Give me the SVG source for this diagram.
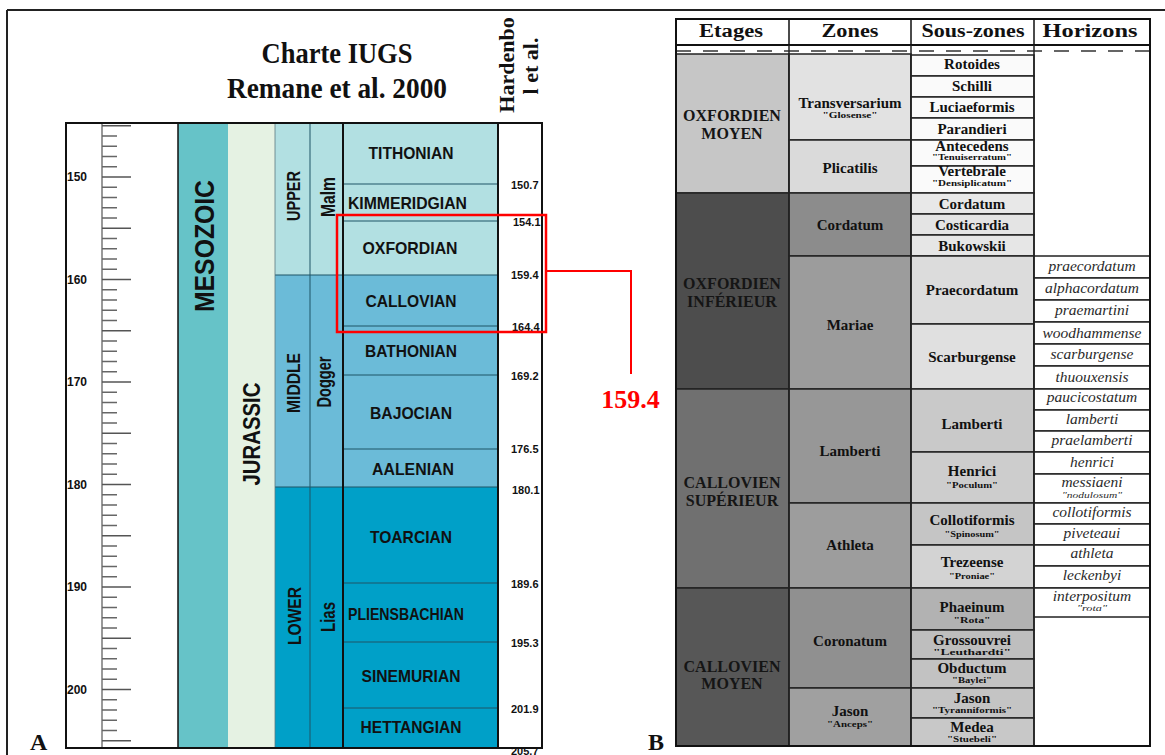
<svg xmlns="http://www.w3.org/2000/svg" width="1165" height="755" viewBox="0 0 1165 755">
<style>
.ar{font-family:"Liberation Sans",Arial,sans-serif;font-weight:bold;fill:#111}
.tm{font-family:"Liberation Serif","Times New Roman",serif;font-weight:bold;fill:#111}
.it{font-family:"Liberation Serif","Times New Roman",serif;font-style:italic;fill:#2a2a2a}
.st{font-size:17px;text-anchor:middle}
.rot{font-size:19px;text-anchor:middle}
.rot2{font-size:21px;text-anchor:middle}
.num{font-size:11px}
.sc{font-size:12px}
.up{fill:#b2e0e2}
.md{fill:#6bbbd8}
.lw{fill:#00a0c8}
.sl{stroke:#1f5566;stroke-width:1;fill:none}
.cell{stroke:#222;stroke-width:1.5}
.hz{fill:#fff;stroke:#222;stroke-width:1.5}
.et{font-size:16px;text-anchor:middle;fill:#151515}
.zt{font-size:15px;text-anchor:middle}
.sub{font-size:9px;text-anchor:middle}
.ht{font-size:15.5px;text-anchor:middle}
.hs{font-size:7.5px;text-anchor:middle}
</style>

<g id="frame">
<line x1="7" y1="10" x2="1165" y2="10" stroke="#222" stroke-width="2"/>
<line x1="7" y1="10" x2="7" y2="755" stroke="#222" stroke-width="2"/>
</g>

<g id="title">
<text class="tm" x="337" y="63" font-size="29" text-anchor="middle" textLength="151" lengthAdjust="spacingAndGlyphs">Charte IUGS</text>
<text class="tm" x="337" y="98" font-size="29" text-anchor="middle" textLength="220" lengthAdjust="spacingAndGlyphs">Remane et al. 2000</text>
</g>

<g id="hardenbol-label">
<text class="tm" font-size="22" text-anchor="middle" transform="translate(514,65) rotate(-90)">Hardenbo</text>
<text class="tm" font-size="22" text-anchor="middle" transform="translate(538,66) rotate(-90)">l et al.</text>
</g>

<g id="scale-column">
<rect x="66" y="123" width="112" height="625" fill="#fff"/>
<line x1="102" y1="123" x2="102" y2="748" stroke="#777" stroke-width="1.5"/>
<path fill="none" stroke="#666" stroke-width="1.3" d="M102 136h15M102 146.25h15M102 156.5h15M102 166.75h15M102 187.25h15M102 197.5h15M102 207.75h15M102 218h15M102 238.5h15M102 248.75h15M102 259h15M102 269.25h15M102 289.75h15M102 300h15M102 310.25h15M102 320.5h15M102 341h15M102 351.25h15M102 361.5h15M102 371.75h15M102 392.25h15M102 402.5h15M102 412.75h15M102 423h15M102 443.5h15M102 453.75h15M102 464h15M102 474.25h15M102 494.75h15M102 505h15M102 515.25h15M102 525.5h15M102 546h15M102 556.25h15M102 566.5h15M102 576.75h15M102 597.25h15M102 607.5h15M102 617.75h15M102 628h15M102 648.5h15M102 658.75h15M102 669h15M102 679.25h15M102 699.75h15M102 710h15M102 720.25h15M102 730.5h15"/>
<path fill="none" stroke="#555" stroke-width="1.3" d="M102 125.75h29M102 177h29M102 228.25h29M102 279.5h29M102 330.75h29M102 382h29M102 433.25h29M102 484.5h29M102 535.75h29M102 587h29M102 638.25h29M102 689.5h29M102 740.75h29"/>
<text class="ar sc" x="67" y="181">150</text>
<text class="ar sc" x="67" y="284">160</text>
<text class="ar sc" x="67" y="386">170</text>
<text class="ar sc" x="67" y="489">180</text>
<text class="ar sc" x="67" y="591">190</text>
<text class="ar sc" x="67" y="694">200</text>
</g>

<g id="era-mesozoic">
<rect x="178" y="123" width="50" height="625" fill="#66c3c8"/>
<text class="ar" font-size="28" text-anchor="middle" textLength="132" lengthAdjust="spacingAndGlyphs" transform="translate(214,246) rotate(-90)">MESOZOIC</text>
</g>

<g id="period-jurassic">
<rect x="228" y="123" width="47" height="625" fill="#e5f2e3"/>
<text class="ar" font-size="23" text-anchor="middle" textLength="103" lengthAdjust="spacingAndGlyphs" transform="translate(260,434) rotate(-90)">JURASSIC</text>
</g>

<g id="series-upper">
<rect class="up" x="275" y="123" width="35" height="152"/>
<text class="ar rot" textLength="50" lengthAdjust="spacingAndGlyphs" transform="translate(300,196) rotate(-90)">UPPER</text>
</g>
<g id="series-middle">
<rect class="md" x="275" y="275" width="35" height="212"/>
<text class="ar rot" textLength="60" lengthAdjust="spacingAndGlyphs" transform="translate(300,383) rotate(-90)">MIDDLE</text>
</g>
<g id="series-lower">
<rect class="lw" x="275" y="487" width="35" height="261"/>
<text class="ar rot" textLength="58" lengthAdjust="spacingAndGlyphs" transform="translate(301,616) rotate(-90)">LOWER</text>
</g>
<g id="sub-malm">
<rect class="up" x="310" y="123" width="33" height="152"/>
<text class="ar rot2" textLength="40" lengthAdjust="spacingAndGlyphs" transform="translate(335,197) rotate(-90)">Malm</text>
</g>
<g id="sub-dogger">
<rect class="md" x="310" y="275" width="33" height="212"/>
<text class="ar rot2" textLength="51" lengthAdjust="spacingAndGlyphs" transform="translate(331,382) rotate(-90)">Dogger</text>
</g>
<g id="sub-lias">
<rect class="lw" x="310" y="487" width="33" height="261"/>
<text class="ar rot2" textLength="30" lengthAdjust="spacingAndGlyphs" transform="translate(335,617) rotate(-90)">Lias</text>
</g>

<g id="stage-tithonian"><rect class="up" x="343" y="123" width="155" height="61"/><text class="ar st" x="411" y="159" textLength="85" lengthAdjust="spacingAndGlyphs">TITHONIAN</text></g>
<g id="stage-kimmeridgian"><rect class="up" x="343" y="184" width="155" height="37"/><text class="ar st" x="407.5" y="209" textLength="119" lengthAdjust="spacingAndGlyphs">KIMMERIDGIAN</text></g>
<g id="stage-oxfordian"><rect class="up" x="343" y="221" width="155" height="54"/><text class="ar st" x="410" y="254" textLength="95" lengthAdjust="spacingAndGlyphs">OXFORDIAN</text></g>
<g id="stage-callovian"><rect class="md" x="343" y="275" width="155" height="51"/><text class="ar st" x="411" y="307" textLength="91" lengthAdjust="spacingAndGlyphs">CALLOVIAN</text></g>
<g id="stage-bathonian"><rect class="md" x="343" y="326" width="155" height="49"/><text class="ar st" x="411" y="357" textLength="92" lengthAdjust="spacingAndGlyphs">BATHONIAN</text></g>
<g id="stage-bajocian"><rect class="md" x="343" y="375" width="155" height="74"/><text class="ar st" x="411" y="419" textLength="82" lengthAdjust="spacingAndGlyphs">BAJOCIAN</text></g>
<g id="stage-aalenian"><rect class="md" x="343" y="449" width="155" height="38"/><text class="ar st" x="413" y="475" textLength="82" lengthAdjust="spacingAndGlyphs">AALENIAN</text></g>
<g id="stage-toarcian"><rect class="lw" x="343" y="487" width="155" height="96"/><text class="ar st" x="411" y="543" textLength="82" lengthAdjust="spacingAndGlyphs">TOARCIAN</text></g>
<g id="stage-pliensbachian"><rect class="lw" x="343" y="583" width="155" height="59"/><text class="ar st" x="406" y="620" textLength="116" lengthAdjust="spacingAndGlyphs">PLIENSBACHIAN</text></g>
<g id="stage-sinemurian"><rect class="lw" x="343" y="642" width="155" height="66"/><text class="ar st" x="411" y="682" textLength="99" lengthAdjust="spacingAndGlyphs">SINEMURIAN</text></g>
<g id="stage-hettangian"><rect class="lw" x="343" y="708" width="155" height="40"/><text class="ar st" x="411" y="733" textLength="101" lengthAdjust="spacingAndGlyphs">HETTANGIAN</text></g>

<g id="chart-lines">
<path class="sl" d="M343 184H498M343 221H498M343 275H498M343 326H498M343 375H498M343 449H498M343 487H498M343 583H498M343 642H498M343 708H498M275 275H343M275 487H343M310 123V748"/>
<line x1="275" y1="123" x2="275" y2="748" stroke="#5a7a80" stroke-width="0.8"/>
<line x1="178" y1="123" x2="178" y2="748" stroke="#111" stroke-width="1.5"/>
<line x1="343" y1="123" x2="343" y2="748" stroke="#111" stroke-width="2"/>
<line x1="498" y1="123" x2="498" y2="748" stroke="#111" stroke-width="2"/>
<rect x="66" y="123" width="476" height="625" fill="none" stroke="#111" stroke-width="2"/>
</g>

<g id="hardenbol-ages">
<text class="ar num" x="511" y="189">150.7</text>
<text class="ar num" x="513" y="226">154.1</text>
<text class="ar num" x="511" y="279">159.4</text>
<text class="ar num" x="512" y="331">164.4</text>
<text class="ar num" x="511" y="380">169.2</text>
<text class="ar num" x="511" y="453">176.5</text>
<text class="ar num" x="512" y="494">180.1</text>
<text class="ar num" x="511" y="588">189.6</text>
<text class="ar num" x="511" y="647">195.3</text>
<text class="ar num" x="511" y="713">201.9</text>
<text class="ar num" x="511" y="755">205.7</text>
</g>

<g id="highlight-box">
<rect x="337" y="215" width="209" height="117" fill="none" stroke="#ff0000" stroke-width="2.5"/>
</g>

<g id="connectors">
<polyline points="546,271 631,271 631,374" fill="none" stroke="#ff0000" stroke-width="2"/>
</g>

<g id="label-159">
<text class="tm" x="630.5" y="408" font-size="26" text-anchor="middle" style="fill:#ff0000">159.4</text>
</g>

<g id="panel-labels">
<text class="tm" x="30" y="750" font-size="24">A</text>
<text class="tm" x="648" y="750" font-size="24">B</text>
</g>

<g id="table-header">
<rect x="676" y="19" width="474" height="26" fill="#fff" stroke="#111" stroke-width="2"/>
<path d="M789 19V45M911 19V45M1034 19V45" stroke="#111" stroke-width="1.5"/>
<text class="tm" x="731" y="37" font-size="18" text-anchor="middle" textLength="64" lengthAdjust="spacingAndGlyphs">Etages</text>
<text class="tm" x="850" y="37" font-size="18" text-anchor="middle" textLength="57" lengthAdjust="spacingAndGlyphs">Zones</text>
<text class="tm" x="973" y="37" font-size="18" text-anchor="middle" textLength="103" lengthAdjust="spacingAndGlyphs">Sous-zones</text>
<text class="tm" x="1090" y="37" font-size="18" text-anchor="middle" textLength="95" lengthAdjust="spacingAndGlyphs">Horizons</text>
</g>

<g id="etage-oxfordien-moyen"><rect class="cell" x="676" y="54" width="113" height="139" fill="#c6c6c6"/><text class="tm et" x="732" y="121">OXFORDIEN</text><text class="tm et" x="732" y="139">MOYEN</text></g>
<g id="etage-oxfordien-inferieur"><rect class="cell" x="676" y="193" width="113" height="196" fill="#4d4d4d"/><text class="tm et" x="732" y="289">OXFORDIEN</text><text class="tm et" x="732" y="307">INFÉRIEUR</text></g>
<g id="etage-callovien-superieur"><rect class="cell" x="676" y="389" width="113" height="199" fill="#707070"/><text class="tm et" x="732" y="488">CALLOVIEN</text><text class="tm et" x="732" y="506">SUPÉRIEUR</text></g>
<g id="etage-callovien-moyen"><rect class="cell" x="676" y="588" width="113" height="158" fill="#575757"/><text class="tm et" x="732" y="672">CALLOVIEN</text><text class="tm et" x="732" y="689">MOYEN</text></g>

<g id="zone-transversarium"><rect class="cell" x="789" y="54" width="122" height="86" fill="#e2e2e2"/><text class="tm zt" x="850" y="108">Transversarium</text><text class="tm sub" x="850" y="118" textLength="55" lengthAdjust="spacingAndGlyphs">"Glosense"</text></g>
<g id="zone-plicatilis"><rect class="cell" x="789" y="140" width="122" height="53" fill="#dadada"/><text class="tm zt" x="850" y="173">Plicatilis</text></g>
<g id="zone-cordatum"><rect class="cell" x="789" y="193" width="122" height="63" fill="#8c8c8c"/><text class="tm zt" x="850" y="230">Cordatum</text></g>
<g id="zone-mariae"><rect class="cell" x="789" y="256" width="122" height="133" fill="#9c9c9c"/><text class="tm zt" x="850" y="330">Mariae</text></g>
<g id="zone-lamberti"><rect class="cell" x="789" y="389" width="122" height="114" fill="#979797"/><text class="tm zt" x="850" y="456">Lamberti</text></g>
<g id="zone-athleta"><rect class="cell" x="789" y="503" width="122" height="85" fill="#9d9d9d"/><text class="tm zt" x="850" y="550">Athleta</text></g>
<g id="zone-coronatum"><rect class="cell" x="789" y="588" width="122" height="100" fill="#909090"/><text class="tm zt" x="850" y="646">Coronatum</text></g>
<g id="zone-jason"><rect class="cell" x="789" y="688" width="122" height="58" fill="#a0a0a0"/><text class="tm zt" x="850" y="716">Jason</text><text class="tm sub" x="850" y="727" textLength="46" lengthAdjust="spacingAndGlyphs">"Anceps"</text></g>

<g id="sz-rotoides"><rect class="cell" x="911" y="55" width="123" height="21" fill="#fafafa"/><text class="tm zt" x="972" y="69">Rotoides</text></g>
<g id="sz-schilli"><rect class="cell" x="911" y="76" width="123" height="21" fill="#fafafa"/><text class="tm zt" x="972" y="91">Schilli</text></g>
<g id="sz-luciaeformis"><rect class="cell" x="911" y="97" width="123" height="21" fill="#fafafa"/><text class="tm zt" x="972" y="112">Luciaeformis</text></g>
<g id="sz-parandieri"><rect class="cell" x="911" y="118" width="123" height="22" fill="#fafafa"/><text class="tm zt" x="972" y="134">Parandieri</text></g>
<g id="sz-antecedens"><rect class="cell" x="911" y="140" width="123" height="26" fill="#fafafa"/><text class="tm zt" x="972" y="151">Antecedens</text><text class="tm sub" x="972" y="160" textLength="80" lengthAdjust="spacingAndGlyphs">"Tenuiserratum"</text></g>
<g id="sz-vertebrale"><rect class="cell" x="911" y="166" width="123" height="27" fill="#fafafa"/><text class="tm zt" x="972" y="176">Vertebrale</text><text class="tm sub" x="972" y="186" textLength="80" lengthAdjust="spacingAndGlyphs">"Densiplicatum"</text></g>
<g id="sz-cordatum"><rect class="cell" x="911" y="193" width="123" height="21" fill="#e8e8e8"/><text class="tm zt" x="972" y="209">Cordatum</text></g>
<g id="sz-costicardia"><rect class="cell" x="911" y="214" width="123" height="21" fill="#e4e4e4"/><text class="tm zt" x="972" y="230">Costicardia</text></g>
<g id="sz-bukowskii"><rect class="cell" x="911" y="235" width="123" height="21" fill="#e6e6e6"/><text class="tm zt" x="972" y="251">Bukowskii</text></g>
<g id="sz-praecordatum"><rect class="cell" x="911" y="256" width="123" height="68" fill="#dcdcdc"/><text class="tm zt" x="972" y="295">Praecordatum</text></g>
<g id="sz-scarburgense"><rect class="cell" x="911" y="324" width="123" height="65" fill="#e0e0e0"/><text class="tm zt" x="972" y="362">Scarburgense</text></g>
<g id="sz-lamberti"><rect class="cell" x="911" y="389" width="123" height="63" fill="#c9c9c9"/><text class="tm zt" x="972" y="429">Lamberti</text></g>
<g id="sz-henrici"><rect class="cell" x="911" y="452" width="123" height="51" fill="#cdcdcd"/><text class="tm zt" x="972" y="476">Henrici</text><text class="tm sub" x="972" y="488" textLength="52" lengthAdjust="spacingAndGlyphs">"Poculum"</text></g>
<g id="sz-collotiformis"><rect class="cell" x="911" y="503" width="123" height="42" fill="#c5c5c5"/><text class="tm zt" x="972" y="525">Collotiformis</text><text class="tm sub" x="972" y="537" textLength="55" lengthAdjust="spacingAndGlyphs">"Spinosum"</text></g>
<g id="sz-trezeense"><rect class="cell" x="911" y="545" width="123" height="43" fill="#d3d3d3"/><text class="tm zt" x="972" y="567">Trezeense</text><text class="tm sub" x="972" y="579" textLength="46" lengthAdjust="spacingAndGlyphs">"Proniae"</text></g>
<g id="sz-phaeinum"><rect class="cell" x="911" y="588" width="123" height="42" fill="#b2b2b2"/><text class="tm zt" x="972" y="612">Phaeinum</text><text class="tm sub" x="972" y="623" textLength="37" lengthAdjust="spacingAndGlyphs">"Rota"</text></g>
<g id="sz-grossouvrei"><rect class="cell" x="911" y="630" width="123" height="29" fill="#bebebe"/><text class="tm zt" x="972" y="645">Grossouvrei</text><text class="tm sub" x="972" y="655" textLength="78" lengthAdjust="spacingAndGlyphs">"Leuthardti"</text></g>
<g id="sz-obductum"><rect class="cell" x="911" y="659" width="123" height="29" fill="#c2c2c2"/><text class="tm zt" x="972" y="673">Obductum</text><text class="tm sub" x="972" y="683" textLength="40" lengthAdjust="spacingAndGlyphs">"Baylei"</text></g>
<g id="sz-jason"><rect class="cell" x="911" y="688" width="123" height="30" fill="#c4c4c4"/><text class="tm zt" x="972" y="703">Jason</text><text class="tm sub" x="972" y="713" textLength="80" lengthAdjust="spacingAndGlyphs">"Tyranniformis"</text></g>
<g id="sz-medea"><rect class="cell" x="911" y="718" width="123" height="28" fill="#c8c8c8"/><text class="tm zt" x="972" y="732">Medea</text><text class="tm sub" x="972" y="742" textLength="50" lengthAdjust="spacingAndGlyphs">"Stuebeli"</text></g>

<g id="hz-praecordatum"><rect class="hz" x="1034" y="256" width="116" height="22"/><text class="it ht" x="1092" y="271">praecordatum</text></g>
<g id="hz-alphacordatum"><rect class="hz" x="1034" y="278" width="116" height="22"/><text class="it ht" x="1092" y="293">alphacordatum</text></g>
<g id="hz-praemartini"><rect class="hz" x="1034" y="300" width="116" height="22"/><text class="it ht" x="1092" y="315">praemartini</text></g>
<g id="hz-woodhammense"><rect class="hz" x="1034" y="322" width="116" height="22"/><text class="it ht" x="1092" y="338">woodhammense</text></g>
<g id="hz-scarburgense"><rect class="hz" x="1034" y="344" width="116" height="22"/><text class="it ht" x="1092" y="359">scarburgense</text></g>
<g id="hz-thuouxensis"><rect class="hz" x="1034" y="366" width="116" height="23"/><text class="it ht" x="1092" y="382">thuouxensis</text></g>
<g id="hz-paucicostatum"><rect class="hz" x="1034" y="389" width="116" height="21"/><text class="it ht" x="1092" y="402">paucicostatum</text></g>
<g id="hz-lamberti"><rect class="hz" x="1034" y="410" width="116" height="21"/><text class="it ht" x="1092" y="424">lamberti</text></g>
<g id="hz-praelamberti"><rect class="hz" x="1034" y="431" width="116" height="21"/><text class="it ht" x="1092" y="445">praelamberti</text></g>
<g id="hz-henrici"><rect class="hz" x="1034" y="452" width="116" height="22"/><text class="it ht" x="1092" y="467">henrici</text></g>
<g id="hz-messiaeni"><rect class="hz" x="1034" y="474" width="116" height="29"/><text class="it ht" x="1092" y="487">messiaeni</text><text class="it hs" x="1092" y="498" textLength="60" lengthAdjust="spacingAndGlyphs">"nodulosum"</text></g>
<g id="hz-collotiformis"><rect class="hz" x="1034" y="503" width="116" height="21"/><text class="it ht" x="1092" y="517">collotiformis</text></g>
<g id="hz-piveteaui"><rect class="hz" x="1034" y="524" width="116" height="21"/><text class="it ht" x="1092" y="538">piveteaui</text></g>
<g id="hz-athleta"><rect class="hz" x="1034" y="545" width="116" height="21"/><text class="it ht" x="1092" y="558">athleta</text></g>
<g id="hz-leckenbyi"><rect class="hz" x="1034" y="566" width="116" height="22"/><text class="it ht" x="1092" y="580">leckenbyi</text></g>
<g id="hz-interpositum"><rect class="hz" x="1034" y="588" width="116" height="29"/><text class="it ht" x="1092" y="601">interpositum</text><text class="it hs" x="1092" y="611" textLength="30" lengthAdjust="spacingAndGlyphs">"rota"</text></g>

<g id="table-frame">
<line x1="676" y1="51" x2="1150" y2="51" stroke="#333" stroke-width="1.5" stroke-dasharray="15 12"/>
<path d="M789 45V746M911 45V746M1034 45V746" stroke="#222" stroke-width="1.5" fill="none"/>
<rect x="676" y="19" width="474" height="727" fill="none" stroke="#111" stroke-width="2"/>
</g>
</svg>
